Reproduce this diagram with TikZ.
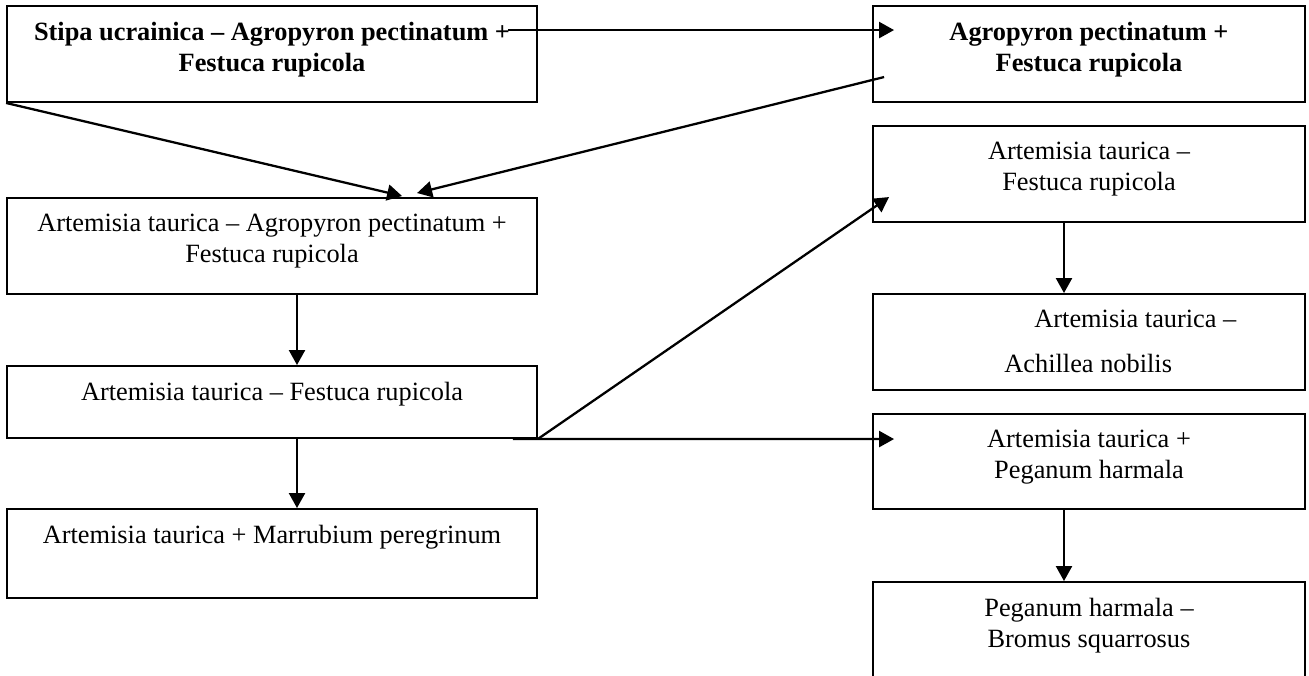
\documentclass[tikz,border=0pt]{standalone}
\usepackage{fontspec}
\setmainfont{Liberation Serif}
\usetikzlibrary{positioning,arrows.meta}

\begin{document}
\begin{tikzpicture}[x=0.02cm,y=-0.02cm,
		box/.style={draw=black,line width=1.1pt,inner sep=0pt},
		txt/.style={inner sep=0pt,align=center,font=\fontsize{15}{17.6}\selectfont},
		boldtxt/.style={txt,font=\fontsize{15}{17.6}\selectfont\bfseries},
		arr/.style={line width=1.3pt,-{Triangle[length=0.3cm,width=0.32cm]}},
		node distance=0.34cm]
					\useasboundingbox (0,0) rectangle (1309,676);
					\node [box,minimum width=10.6cm,minimum height=1.92cm] (a) at (272,54) {};
					\node [boldtxt,below=of a.north] (a-t) {Stipa ucrainica – Agropyron pectinatum +\\Festuca rupicola};
					\node [box,minimum width=8.64cm,minimum height=1.92cm] (b) at (1089,54) {};
					\node [boldtxt,below=of b.north] (b-t) {Agropyron pectinatum +\\Festuca rupicola};
					\node [box,minimum width=10.6cm,minimum height=1.92cm] (c) at (272,246) {};
					\node [txt,below=of c.north] (c-t) {Artemisia taurica – Agropyron pectinatum +\\Festuca rupicola};
					\node [box,minimum width=10.6cm,minimum height=1.44cm] (d) at (272,402) {};
					\node [txt,below=of d.north] (d-t) {Artemisia taurica – Festuca rupicola};
					\node [box,minimum width=10.6cm,minimum height=1.78cm] (e) at (272,553.5) {};
					\node [txt,below=of e.north] (e-t) {Artemisia taurica + Marrubium peregrinum};
					\node [box,minimum width=8.64cm,minimum height=1.92cm] (f) at (1089,174) {};
					\node [txt,below=of f.north] (f-t) {Artemisia taurica –\\Festuca rupicola};
					\node [box,minimum width=8.64cm,minimum height=1.92cm] (g) at (1089,342) {};
					\node [txt,align=left,below right=0.34cm and 2.64cm of g.north west] (g-t) {\hspace*{0.6cm}Artemisia taurica –\\[0.28cm]Achillea nobilis};
					\node [box,minimum width=8.64cm,minimum height=1.9cm] (h) at (1089,461.5) {};
					\node [txt,below=of h.north] (h-t) {Artemisia taurica +\\Peganum harmala};
					\node [box,minimum width=8.64cm,minimum height=2.04cm] (i) at (1089,633) {};
					\node [txt,below=of i.north] (i-t) {Peganum harmala –\\Bromus squarrosus};
					\draw [arr] ([shift={(-30,25)}]a.north east) -- ([shift={(22,25)}]b.north west);
					\draw [arr] (a.south west) -- ([shift={(396,-1)}]c.north west);
					\draw [arr] ([shift={(12,72)}]b.north west) -- ([shift={(411,-4)}]c.north west);
					\draw [arr] ([shift={(25,0)}]c.south) -- ([shift={(25,0)}]d.north);
					\draw [arr] ([shift={(25,0)}]d.south) -- ([shift={(25,0)}]e.north);
					\draw [arr] ([shift={(-25,0)}]d.south east) -- ([shift={(22,26)}]h.north west);
					\draw [arr] (d.south east) -- ([shift={(17,72)}]f.north west);
					\draw [arr] ([shift={(-25,0)}]f.south) -- ([shift={(-25,0)}]g.north);
					\draw [arr] ([shift={(-25,0)}]h.south) -- ([shift={(-25,0)}]i.north);
				\end{tikzpicture}
\end{document}
